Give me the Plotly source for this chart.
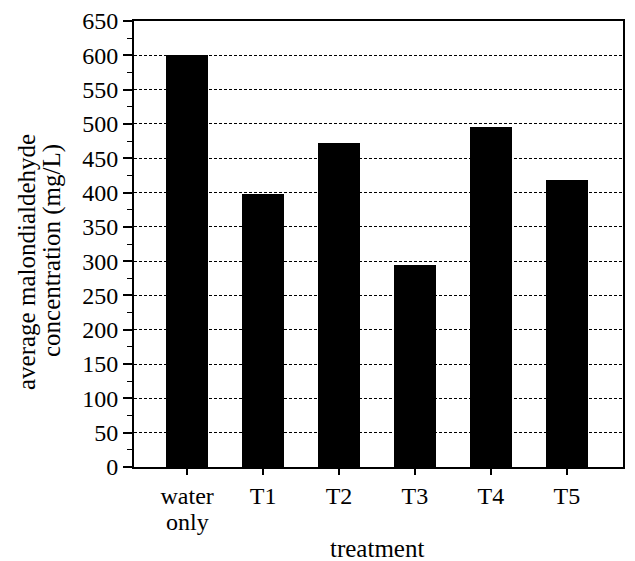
import plotly.graph_objects as go

categories = ["water", "T1", "T2", "T3", "T4", "T5"]
category_second_line = ["only", "", "", "", "", ""]
values = [600, 398, 472, 295, 496, 418]
y_ticks = list(range(0, 651, 50))
y_title_lines = ["average malondialdehyde", "concentration (mg/L)"]
x_title = "treatment"

L, R, T, B = 134, 12, 21, 94
W, H = 635, 561
pw, ph = W - L - R, H - T - B


def px_x(px):
    return (px - L) / pw


def px_y(py):
    return (H - B - py) / ph


fig = go.Figure()
fig.add_trace(go.Bar(
    x=list(range(len(categories))), y=values,
    marker=dict(color="black", line=dict(width=0)),
    width=0.56,
))

font = "Liberation Serif, Times New Roman, serif"
fig.update_layout(
    width=W, height=H,
    margin=dict(l=L, r=R, t=T, b=B),
    paper_bgcolor="white", plot_bgcolor="white",
    font=dict(family=font, size=25, color="black"),
    showlegend=False,
    bargap=0,
)
fig.update_xaxes(
    range=[-0.7, 5.74],
    tickmode="array", tickvals=list(range(len(categories))), ticktext=categories,
    ticks="outside", ticklen=6, tickwidth=1.5, tickcolor="black",
    showline=True, linecolor="black", linewidth=2, mirror=True,
    showgrid=False, zeroline=False, automargin=False,
    tickfont=dict(size=24),
)
fig.update_yaxes(
    range=[0, 650],
    tickmode="array", tickvals=y_ticks, ticktext=[str(v) for v in y_ticks],
    ticks="outside", ticklen=9, tickwidth=1.5, tickcolor="black",
    minor=dict(dtick=25, tick0=0, ticks="outside", ticklen=5, tickwidth=1.2,
               tickcolor="black", showgrid=False),
    showline=True, linecolor="black", linewidth=2, mirror=True,
    showgrid=True, gridcolor="black", gridwidth=1, griddash="3px,2px",
    zeroline=False, automargin=False,
    tickfont=dict(size=24),
)

# second line of category labels
for i, t in enumerate(category_second_line):
    if t:
        fig.add_annotation(x=i, xref="x", y=px_y(522), yref="paper",
                           text=t, showarrow=False, font=dict(size=24),
                           xanchor="center", yanchor="middle")

# x axis title
fig.add_annotation(x=px_x(377), xref="paper", y=px_y(548), yref="paper",
                   text=x_title, showarrow=False, font=dict(size=25),
                   xanchor="center", yanchor="middle")

# y axis title (two lines)
for text, cx, cy in zip(y_title_lines, [26, 52], [262, 251]):
    fig.add_annotation(x=px_x(cx), xref="paper", y=px_y(cy), yref="paper",
                       text=text, showarrow=False, textangle=-90,
                       font=dict(size=25), xanchor="center", yanchor="middle")

fig.write_html("out.html", config={"displayModeBar": False},
               post_script="document.body.style.margin='0';")
